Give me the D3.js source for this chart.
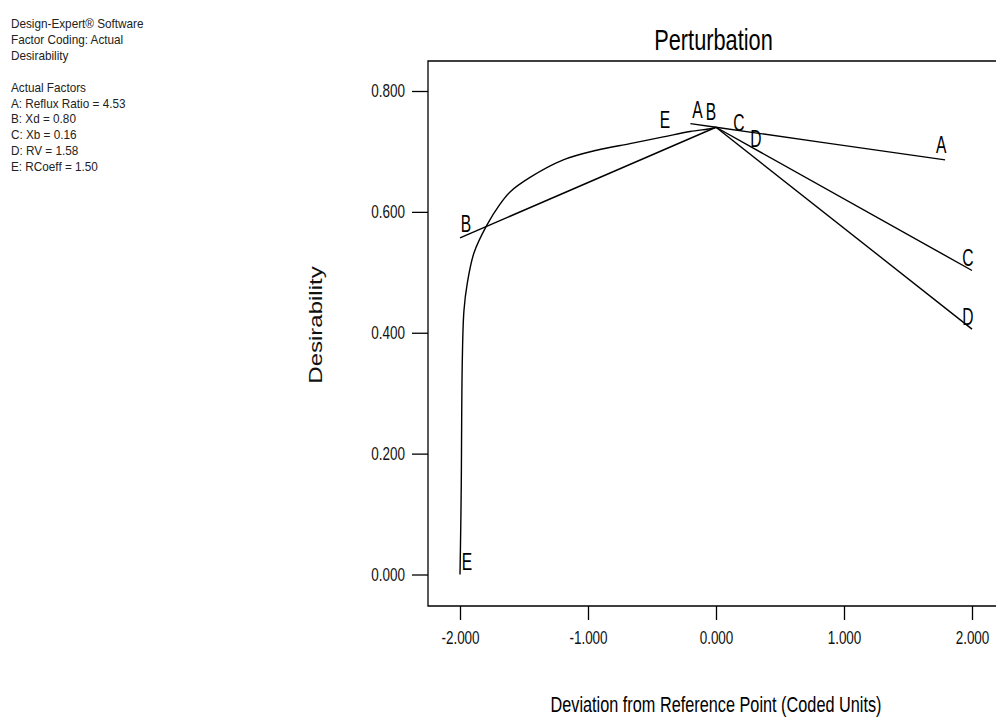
<!DOCTYPE html>
<html>
<head>
<meta charset="utf-8">
<script src="https://cdn.jsdelivr.net/npm/d3@7"></script>
<style>
  body { margin: 0; background: #fff; }
  svg { display: block; font-family: "Liberation Sans", Arial, sans-serif; }
</style>
</head>
<body>
<div id="main"></div>
<script>
// Info block shown top-left
const infoLines = [
  "Design-Expert® Software",
  "Factor Coding: Actual",
  "Desirability",
  "",
  "Actual Factors",
  "A: Reflux Ratio = 4.53",
  "B: Xd = 0.80",
  "C: Xb = 0.16",
  "D: RV = 1.58",
  "E: RCoeff = 1.50"
];

const xTicks = [-2, -1, 0, 1, 2];
const yTicks = [0, 0.2, 0.4, 0.6, 0.8];

// Perturbation traces, deviation (coded units) and desirability
const devA = [-0.2, 0, 1.79];
const desA = [0.746, 0.740, 0.686];
const devB = [-2, 0];
const desB = [0.557, 0.740];
const devC = [0, 2];
const desC = [0.740, 0.503];
const devD = [0, 2];
const desD = [0.740, 0.406];
const devE = [-2, -1.994, -1.99, -1.982, -1.969, -1.943, -1.891, -1.79, -1.69, -1.609,
  -1.453, -1.193, -0.932, -0.672, -0.412, -0.203, -0.033, 0];
const desE = [0.0, 0.08, 0.151, 0.354, 0.437, 0.482, 0.532, 0.578, 0.612, 0.633,
  0.657, 0.686, 0.702, 0.713, 0.724, 0.733, 0.738, 0.740];

const factors = ["A", "B", "C", "D", "E"];
const devs = [devA, devB, devC, devD, devE];
const dess = [desA, desB, desC, desD, desE];

const width = 996, height = 722;
const frame = { left: 428, top: 61, bottom: 606, right: 1002 };

const svg = d3.select("#main").append("svg")
  .attr("width", width)
  .attr("height", height);

const x = d3.scaleLinear().domain([-2, 2]).range([460, 972]);
const y = d3.scaleLinear().domain([0, 0.8]).range([574.5, 91]);

// the source picture is squashed sideways, so text gets a horizontal squeeze
const squeeze = function (sel, sx) {
  sel.each(function () {
    const t = d3.select(this);
    const tx = +t.attr("x") || 0;
    const ty = +t.attr("y") || 0;
    t.attr("x", 0).attr("y", 0)
      .attr("transform", `translate(${tx},${ty}) scale(${sx},1)`);
  });
};
const fmt = d => d3.format(".3f")(d).replace("\u2212", "-");

// info text
const info = svg.append("g").selectAll("text").data(infoLines)
  .enter().append("text")
  .attr("x", 11)
  .attr("y", (d, i) => 28 + i * 15.9)
  .attr("font-size", 13.5)
  .attr("fill", "#222")
  .text(d => d);
squeeze(info, 0.87);

// title
svg.append("text")
  .attr("x", 713.5).attr("y", 50)
  .attr("text-anchor", "middle")
  .attr("font-size", 29)
  .text("Perturbation")
  .call(squeeze, 0.75);

// frame (right edge sits off the picture)
svg.append("path")
  .attr("d", `M${frame.right},${frame.top}H${frame.left}V${frame.bottom}H${frame.right}`)
  .attr("fill", "none")
  .attr("stroke", "#000")
  .attr("stroke-width", 1.3);

// y axis
const yAxis = svg.append("g")
  .attr("transform", `translate(${frame.left},0)`)
  .call(d3.axisLeft(y).tickValues(yTicks).tickFormat(fmt).tickSize(16).tickPadding(7));
yAxis.select(".domain").remove();
yAxis.selectAll("line").attr("stroke-width", 1.3);
yAxis.selectAll("text").attr("font-size", 17.5).attr("font-family", null).attr("fill", "#111")
  .call(squeeze, 0.77);

// x axis
const xAxis = svg.append("g")
  .attr("transform", `translate(0,${frame.bottom})`)
  .call(d3.axisBottom(x).tickValues(xTicks).tickFormat(fmt).tickSize(14).tickPadding(12));
xAxis.select(".domain").remove();
xAxis.selectAll("line").attr("stroke-width", 1.3);
xAxis.selectAll("text").attr("font-size", 17.5).attr("font-family", null).attr("fill", "#111")
  .call(squeeze, 0.77);

// axis titles
svg.append("text")
  .attr("transform", "translate(322,325) scale(0.78,1) rotate(-90)")
  .attr("text-anchor", "middle")
  .attr("font-size", 24)
  .attr("fill", "#111")
  .text("Desirability");

svg.append("text")
  .attr("x", 716).attr("y", 712)
  .attr("text-anchor", "middle")
  .attr("font-size", 22)
  .text("Deviation from Reference Point (Coded Units)")
  .call(squeeze, 0.74);

// traces
const line = d3.line()
  .x(d => x(d[0]))
  .y(d => y(d[1]))
  .curve(d3.curveCatmullRom.alpha(0.5));

const traces = factors.map((f, i) => ({
  f: f,
  pts: devs[i].map((u, j) => [u, dess[i][j]])
}));

svg.append("g").selectAll("path").data(traces)
  .enter().append("path")
  .attr("d", d => line(d.pts))
  .attr("fill", "none")
  .attr("stroke", "#000")
  .attr("stroke-width", 1.4);

// labels at each end of every trace, nudged apart like the original
const labelNudge = {
  A: [[7, -6], [-4, -7]],
  B: [[6, -6], [-5, -7]],
  C: [[23, 4], [-4, -4]],
  D: [[40, 20], [-4, -4]],
  E: [[7, -5], [-51, 1]]
};
const labels = [];
traces.forEach(t => {
  const ends = [t.pts[0], t.pts[t.pts.length - 1]];
  ends.forEach((p, k) => {
    labels.push({ f: t.f, x: x(p[0]) + labelNudge[t.f][k][0], y: y(p[1]) + labelNudge[t.f][k][1] });
  });
});

svg.append("g").selectAll("text").data(labels)
  .enter().append("text")
  .attr("x", d => d.x)
  .attr("y", d => d.y)
  .attr("text-anchor", "middle")
  .attr("font-size", 24)
  .text(d => d.f)
  .call(squeeze, 0.65);
</script>
</body>
</html>
